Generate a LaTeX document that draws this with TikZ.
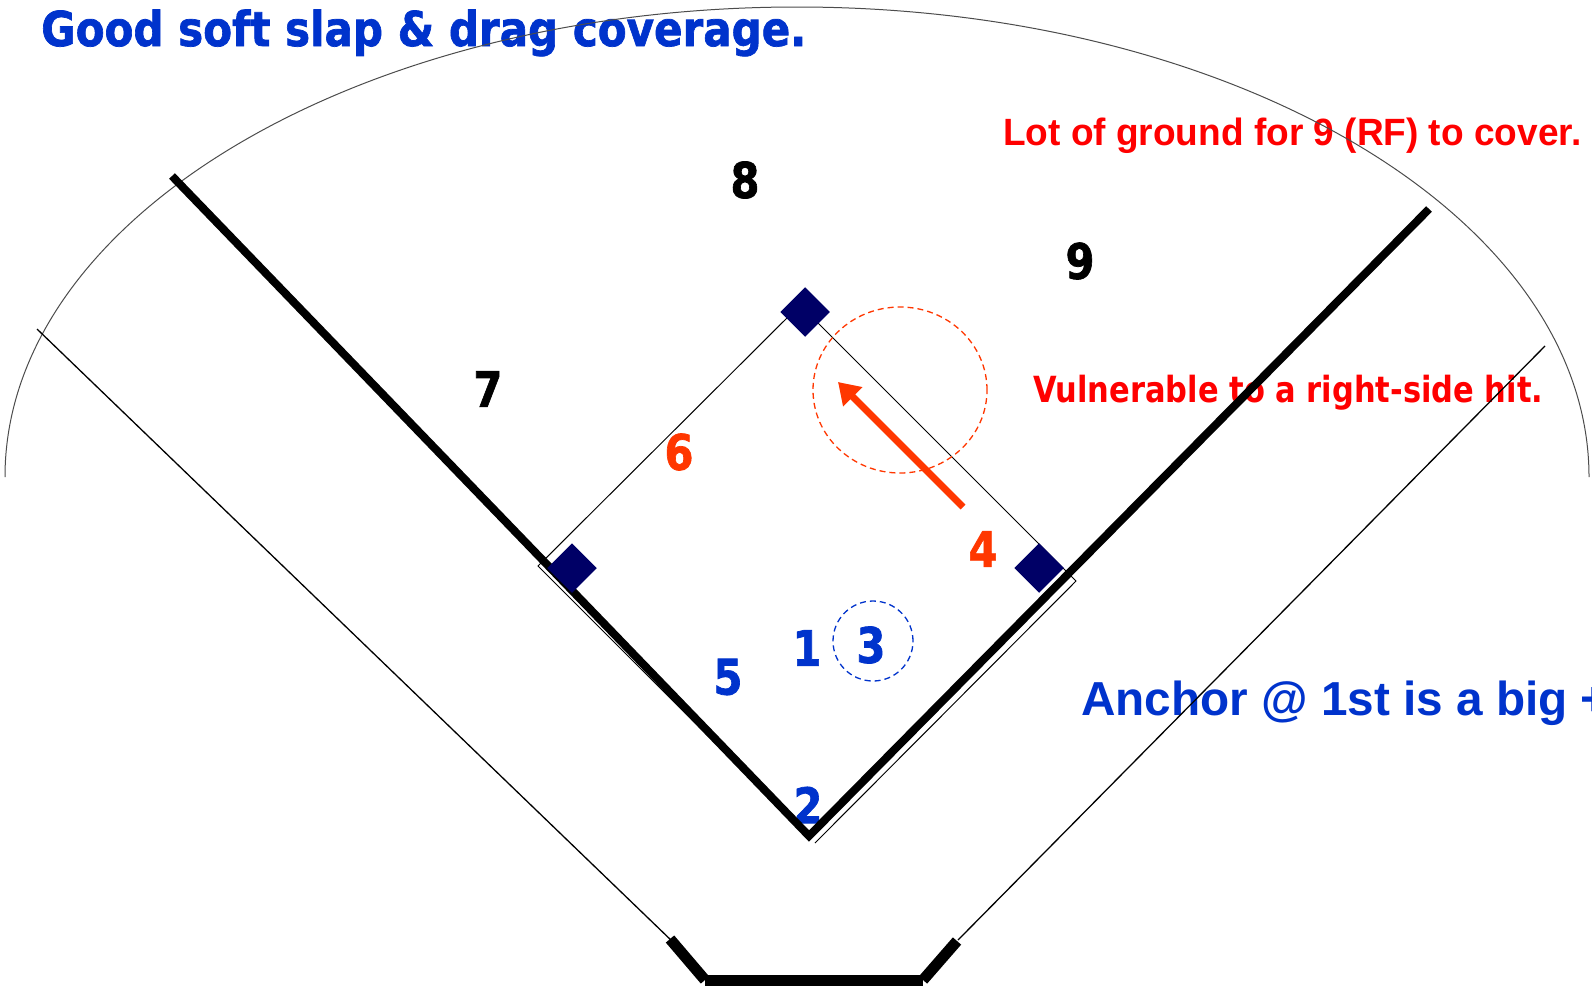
\documentclass[tikz,border=0pt]{standalone}
\usepackage{fontspec}
\usepackage{graphicx}
\setmainfont{DejaVu Sans}
\newfontfamily\dvs{DejaVu Sans}
\newfontfamily\dvsh{DejaVu Sans}[BoldFeatures={FakeBold=1.5}]
\newfontfamily\arl{Liberation Sans}
\usetikzlibrary{arrows.meta}
\definecolor{tblue}{RGB}{0,51,204}
\definecolor{tred}{RGB}{255,0,0}
\definecolor{torange}{RGB}{255,55,0}
\definecolor{navy}{RGB}{0,0,102}
\newcommand{\cnd}[1]{\scalebox{0.85}[1]{#1}}
\begin{document}
\begin{tikzpicture}[x=1pt,y=-1pt,
  num/.style={font=\dvsh\bfseries\fontsize{49}{49}\selectfont, inner sep=0pt, anchor=center},
  lbl/.style={inner sep=0pt, anchor=base west},
  basebag/.style={fill=navy, minimum width=35pt, minimum height=35pt, rotate=45, inner sep=0pt},
  foul/.style={line width=8pt, line join=miter, line cap=butt},
  thinline/.style={line width=1pt},
  fence/.style={line width=1.3pt},
  backstop/.style={line width=11pt, line cap=butt},
  fieldarc/.style={line width=1pt, black!70},
  zone/.style={line width=1.3pt, dash pattern=on 6pt off 4pt}]
\useasboundingbox (0,0) rectangle (1592,989);
\fill[white] (0,0) rectangle (1592,989);

% texts
\node[lbl] (title) at (41,46) {\resizebox{765pt}{\height}{\color{tblue}\dvsh\bfseries\fontsize{48}{48}\selectfont Good soft slap \& drag coverage.}};
\node[lbl] (lot) at (1003,145) {\resizebox{578pt}{\height}{\color{tred}\arl\bfseries\fontsize{38}{38}\selectfont Lot of ground for 9 (RF) to cover.}};
\node[lbl] (vuln) at (1033,402) {\resizebox{510pt}{\height}{\color{tred}\dvs\bfseries\fontsize{36}{36}\selectfont Vulnerable to a right-side hit.}};
\node[lbl, text=tblue, font=\arl\bfseries\fontsize{47.7}{47.7}\selectfont] (anchor) at (1081,715) {Anchor @ 1st is a big +};

\node[num] (n8) at (745,180) {\cnd{8}};
\node[num] (n9) at (1080,261) {\cnd{9}};
\node[num] (n7) at (488,389) {\cnd{7}};
\node[num, text=torange] (n6) at (679,452) {\cnd{6}};
\node[num, text=torange] (n4) at (983,549) {\cnd{4}};
\node[num, text=tblue] (n5) at (728,677) {\cnd{5}};
\node[num, text=tblue] (n1) at (807,648) {\cnd{1}};
\node[num, text=tblue] (n3) at (871,645) {\cnd{3}};
\node[num, text=tblue] (n2) at (808,805) {\cnd{2}};

% outfield arc
\draw[fieldarc] (5,477) arc[start angle=180, end angle=0, x radius=792pt, y radius=470pt];

% fence lines and backstop
\coordinate (FL1) at (37,329);
\coordinate (FL2) at (673,942);
\coordinate (FR1) at (1545,346);
\coordinate (FR2) at (958,940);
\draw[fence] (FL1) -- (FL2);
\draw[fence] (FR1) -- (FR2);
\coordinate (BK1) at (670,939);
\coordinate (BK2) at (705,980);
\coordinate (BK3) at (923,980);
\coordinate (BK4) at (957,941);
\draw[backstop] (BK1) -- (BK2);
\draw[backstop] (BK2) -- (BK3);
\draw[backstop] (BK3) -- (BK4);

% base paths
\coordinate (S) at (800,305);
\coordinate (T) at (538,566);
\coordinate (TH) at (807,835);
\coordinate (F1) at (1066,571);
\coordinate (F2) at (1076,581);
\coordinate (FH) at (815,843);
\draw[thinline] (S) -- (T) -- (TH);
\draw[thinline] (S) -- (F1) -- (F2) -- (FH);

% foul lines
\coordinate (LF) at (172,176);
\coordinate (H) at (809,836);
\coordinate (RF) at (1429,209);
\draw[foul] (LF) -- (H) -- (RF);

% bases
\node[basebag] (b2) at (805,312) {};
\node[basebag] (b1) at (1039,568) {};
\node[basebag] (b3) at (572,568) {};

% zones
\coordinate (z4c) at (900,390);
\draw[zone, torange] (z4c) ellipse[x radius=87pt, y radius=83pt];
\coordinate (z3c) at (873,641);
\draw[zone, tblue] (z3c) circle[radius=40pt];

% arrow
\coordinate (A0) at (963,507);
\coordinate (A1) at (838,382);
\draw[torange, line width=7pt, -{Triangle[length=21pt,width=26pt]}] (A0) -- (A1);
\end{tikzpicture}
\end{document}
